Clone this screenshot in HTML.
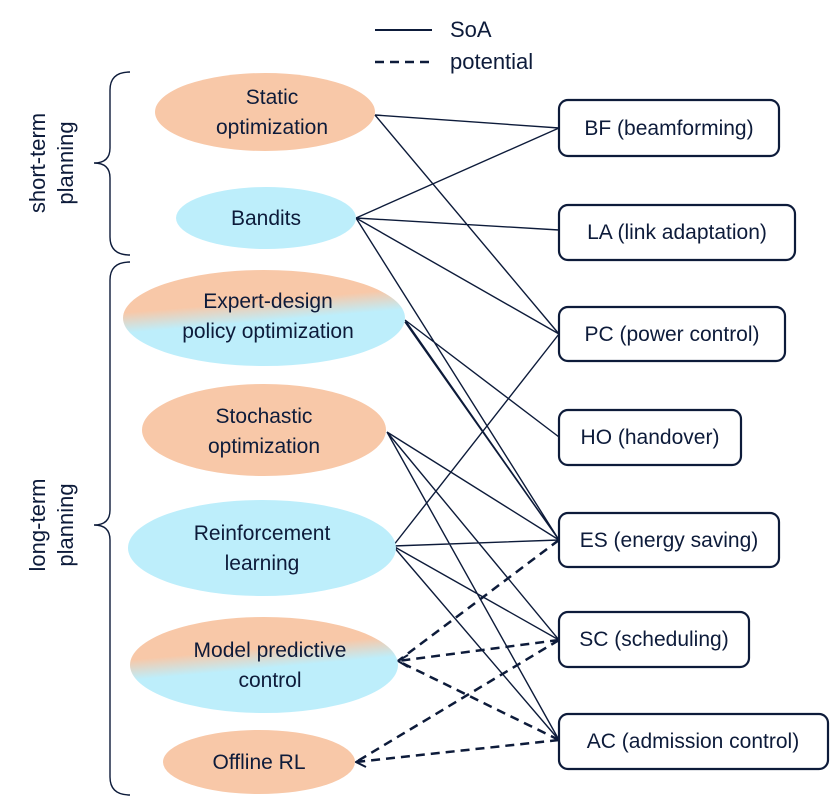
<!DOCTYPE html>
<html><head><meta charset="utf-8"><style>
body{margin:0;background:#fff}
svg text{font-family:"Liberation Sans",sans-serif;fill:#0d1b3a}
</style></head><body>
<svg width="830" height="796" viewBox="0 0 830 796" xmlns="http://www.w3.org/2000/svg">
<defs>
<linearGradient id="g" x1="0" y1="0" x2="0.25" y2="1">
<stop offset="0.42" stop-color="#f8c8a8"/><stop offset="0.62" stop-color="#bdeefb"/>
</linearGradient>
</defs>
<g fill="none" stroke="#0d1b3a" stroke-width="1.4">
<path d="M375,115 L559,128 M375,115 L559,334 M356,218 L559,128 M356,218 L559,230 M356,218 L559,334 M356,218 L559,540 M405,320 L559,437 M405,320 L559,540 M405,322 L559,540 M387,432 L559,540 M387,432 L559,640 M387,432 L559,740 M393,546 L559,334 M393,546 L559,540 M393,546 L559,640 M393,546 L559,740"/>
</g>
<g fill="none" stroke="#0d1b3a" stroke-width="2.5" stroke-dasharray="9,6">
<path d="M559,540 L398,661 M559,640 L398,661 M559,740 L398,661 M559,640 L356,762 M559,740 L356,762"/>
</g>
<g fill="none" stroke="#0d1b3a" stroke-width="2">
<path d="M408,655 L398,661 L408,667 M366,756 L356,762 L366,767"/>
</g>
<ellipse cx="265" cy="112" rx="110" ry="39" fill="#f8c8a8"/>
<ellipse cx="266" cy="218" rx="90" ry="31" fill="#bdeefb"/>
<ellipse cx="264" cy="318" rx="141" ry="48" fill="url(#g)"/>
<ellipse cx="264" cy="430" rx="122" ry="46" fill="#f8c8a8"/>
<ellipse cx="262" cy="548" rx="134" ry="48" fill="#bdeefb"/>
<ellipse cx="264" cy="665" rx="134" ry="48" fill="url(#g)"/>
<ellipse cx="259" cy="762" rx="96" ry="32" fill="#f8c8a8"/>
<g font-size="21" text-anchor="middle">
<text x="272" y="104">Static</text><text x="272" y="134">optimization</text>
<text x="266" y="225">Bandits</text>
<text x="268" y="308">Expert-design</text><text x="268" y="338">policy optimization</text>
<text x="264" y="423">Stochastic</text><text x="264" y="453">optimization</text>
<text x="262" y="540">Reinforcement</text><text x="262" y="570">learning</text>
<text x="270" y="657">Model predictive</text><text x="270" y="687">control</text>
<text x="259" y="769">Offline RL</text>
</g>
<g fill="#fff" stroke="#0d1b3a" stroke-width="2.2">
<rect x="559" y="100" width="220" height="56" rx="9"/>
<rect x="559" y="205" width="236" height="55" rx="9"/>
<rect x="559" y="307" width="226" height="54" rx="9"/>
<rect x="559" y="410" width="182" height="55" rx="9"/>
<rect x="559" y="513" width="220" height="54" rx="9"/>
<rect x="559" y="612" width="190" height="55" rx="9"/>
<rect x="559" y="714" width="269" height="55" rx="9"/>
</g>
<g font-size="21" text-anchor="middle">
<text x="669" y="135">BF (beamforming)</text>
<text x="677" y="239">LA (link adaptation)</text>
<text x="672" y="341">PC (power control)</text>
<text x="650" y="444">HO (handover)</text>
<text x="669" y="547">ES (energy saving)</text>
<text x="654" y="646">SC (scheduling)</text>
<text x="693" y="748">AC (admission control)</text>
</g>
<g fill="none" stroke="#0d1b3a" stroke-width="1.4">
<path d="M130,72 Q110,72 110,90 L110,148 Q110,163 94,163 Q110,163 110,178 L110,237 Q110,255 130,255"/>
<path d="M130,262 Q110,262 110,280 L110,510 Q110,525 94,525 Q110,525 110,540 L110,777 Q110,795 130,795"/>
</g>
<g font-size="22" text-anchor="middle">
<text transform="translate(45,163) rotate(-90)">short-term</text>
<text transform="translate(73,163) rotate(-90)">planning</text>
<text transform="translate(45,525) rotate(-90)">long-term</text>
<text transform="translate(73,525) rotate(-90)">planning</text>
</g>
<line x1="375" y1="30" x2="432" y2="30" stroke="#0d1b3a" stroke-width="2"/>
<line x1="375" y1="62" x2="432" y2="62" stroke="#0d1b3a" stroke-width="2.5" stroke-dasharray="9,6"/>
<text x="450" y="37" font-size="22">SoA</text>
<text x="450" y="69" font-size="22">potential</text>
</svg>
</body></html>
